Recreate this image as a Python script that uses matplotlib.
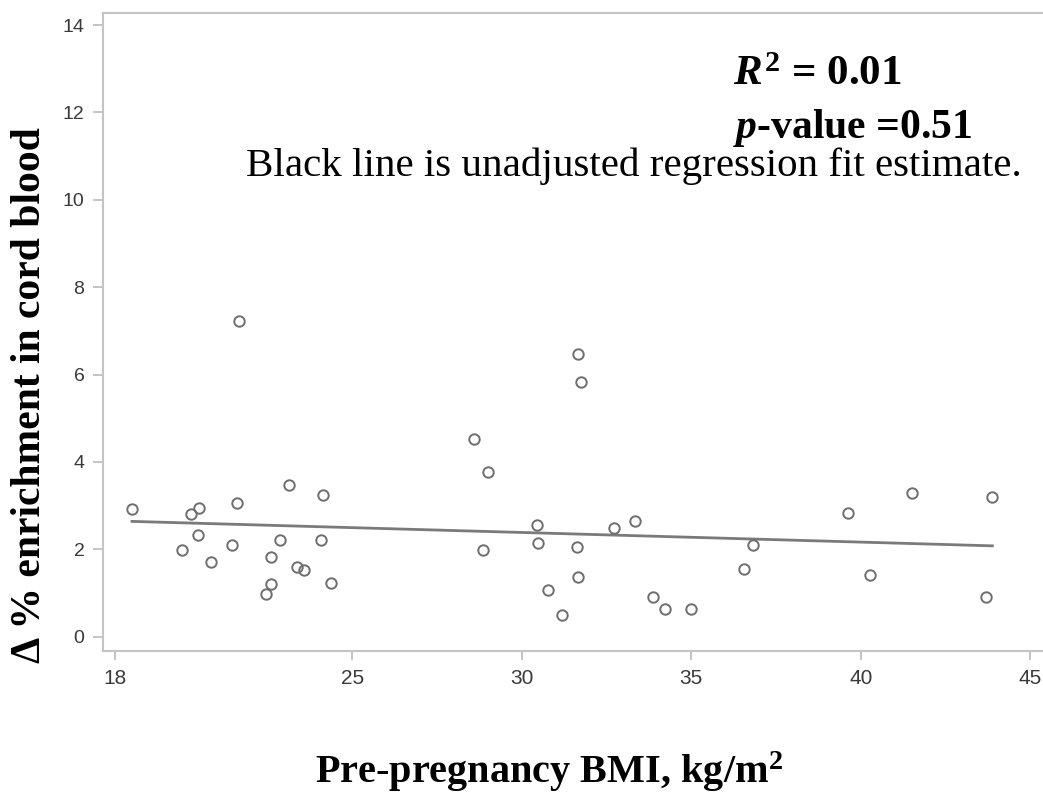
import matplotlib
matplotlib.use("Agg")
import matplotlib.pyplot as plt
import numpy as np

# pre-pregnancy BMI (kg/m^2) and change in % enrichment in cord blood
bmi = [18.50, 19.97, 20.23, 20.47, 20.44, 20.83, 21.44, 21.66, 21.59, 22.45,
       22.59, 22.61, 22.87, 23.13, 23.36, 23.58, 24.08, 24.14, 24.36, 28.58,
       28.86, 28.99, 30.46, 30.49, 30.77, 31.18, 31.67, 31.75, 31.62, 31.66,
       32.71, 33.33, 33.88, 34.22, 34.99, 36.55, 36.83, 39.61, 40.26, 41.50,
       43.68, 43.88]
enrich = [2.92, 1.98, 2.80, 2.94, 2.32, 1.72, 2.11, 7.22, 3.05, 0.98,
          1.21, 1.83, 2.21, 3.48, 1.60, 1.52, 2.21, 3.24, 1.23, 4.53,
          1.98, 3.78, 2.56, 2.14, 1.07, 0.50, 6.47, 5.84, 2.06, 1.36,
          2.49, 2.65, 0.92, 0.64, 0.64, 1.56, 2.11, 2.84, 1.42, 3.30,
          0.92, 3.20]

# unadjusted regression fit line (ends)
fit_x = [18.50, 43.88]
fit_y = [2.64, 2.08]

xticks = [18, 25, 30, 35, 40, 45]
yticks = [0, 2, 4, 6, 8, 10, 12, 14]

plt.rcParams['mathtext.fontset'] = 'custom'
plt.rcParams['mathtext.rm'] = 'Liberation Serif:bold'
plt.rcParams['mathtext.it'] = 'Liberation Serif:italic:bold'
plt.rcParams['mathtext.bf'] = 'Liberation Serif:bold'

W, H = 1043, 794
fig = plt.figure(figsize=(W / 100, H / 100), dpi=100)
# right edge of the frame falls outside the cropped picture
ax = fig.add_axes([102.5 / W, 1 - 650.7 / H, (1050 - 102.5) / W, (650.7 - 13.3) / H])

frame = '#c4c4c4'
ax.plot(fit_x, fit_y, color='#7a7a7a', linewidth=2.0, zorder=2)
ax.plot(bmi, enrich, linestyle='none', marker='o', markersize=7.5,
        markerfacecolor='none', markeredgecolor='#6e6e6e', markeredgewidth=1.4, zorder=3)

ax.set_xlim(17.63, 45.58)
ax.set_ylim(-0.32, 14.27)
ax.set_xticks(xticks)
ax.set_yticks(yticks)
for s in ax.spines.values():
    s.set_color(frame)
    s.set_linewidth(1.5)
ax.spines['right'].set_visible(False)
ax.tick_params(axis='both', direction='out', color='#b4b4b4', width=1.1,
               labelcolor='#3a3a3a')
ax.tick_params(axis='x', length=6.5, pad=7, labelsize=15)
ax.tick_params(axis='y', length=7, pad=6, labelsize=14)
for lab in ax.get_xticklabels() + ax.get_yticklabels():
    lab.set_family('Liberation Sans')

serif = 'Liberation Serif'
fig.text(30 / W, 1 - 395 / H, 'Δ % enrichment in cord blood', rotation=90,
         ha='center', va='center', family=serif, fontweight='bold', fontsize=30)
fig.text(549 / W, 1 - 772 / H, 'Pre-pregnancy BMI, kg/m$^{2}$',
         ha='center', va='center', family=serif, fontweight='bold', fontsize=29)

fig.text(733 / W, 1 - 75 / H, '$R^{2}$ = 0.01', ha='left', va='center',
         family=serif, fontweight='bold', fontsize=31)
fig.text(733 / W, 1 - 128 / H, '$p$-value =0.51', ha='left', va='center',
         family=serif, fontweight='bold', fontsize=30)
fig.text(1022 / W, 1 - 166 / H, 'Black line is unadjusted regression fit estimate.',
         ha='right', va='center', family=serif, fontsize=29.5)

fig.savefig('out.png', dpi=100)
